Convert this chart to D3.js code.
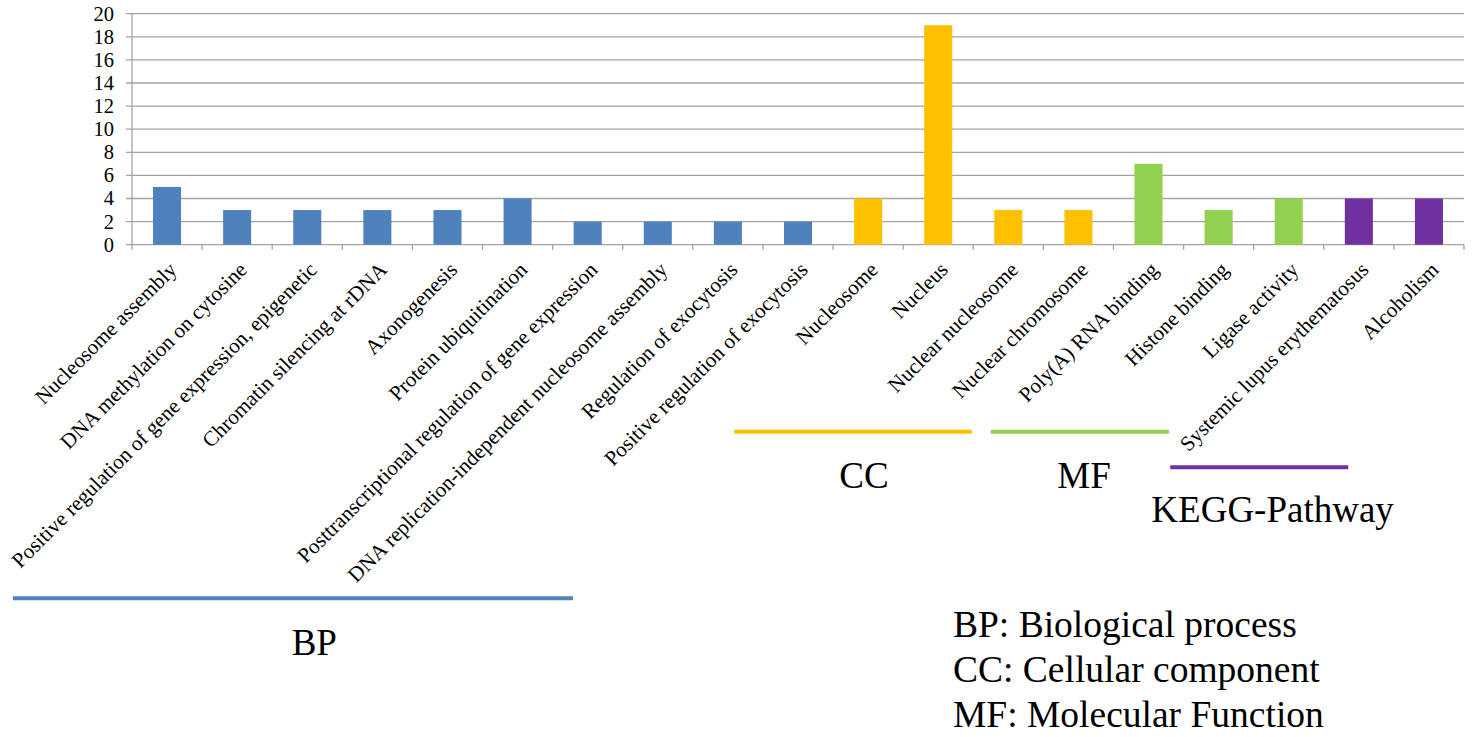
<!DOCTYPE html>
<html>
<head>
<meta charset="utf-8">
<script src="https://cdn.jsdelivr.net/npm/d3@7"></script>
<style>
  html, body { margin: 0; padding: 0; background: #fff; }
  svg { display: block; }
  svg text { font-family: "Liberation Serif", "Times New Roman", Times, serif; }
</style>
</head>
<body>
<svg id="chart" width="1472" height="737"></svg>
<script>
const categories = [
  "Nucleosome assembly",
  "DNA methylation on cytosine",
  "Positive regulation of gene expression, epigenetic",
  "Chromatin silencing at rDNA",
  "Axonogenesis",
  "Protein ubiquitination",
  "Posttranscriptional regulation of gene expression",
  "DNA replication-independent nucleosome assembly",
  "Regulation of exocytosis",
  "Positive regulation of exocytosis",
  "Nucleosome",
  "Nucleus",
  "Nuclear nucleosome",
  "Nuclear chromosome",
  "Poly(A) RNA binding",
  "Histone binding",
  "Ligase activity",
  "Systemic lupus erythematosus",
  "Alcoholism"
];
const counts = [5, 3, 3, 3, 3, 4, 2, 2, 2, 2, 4, 19, 3, 3, 7, 3, 4, 4, 4];
const groupOf = ["BP", "BP", "BP", "BP", "BP", "BP", "BP", "BP", "BP", "BP",
                 "CC", "CC", "CC", "CC", "MF", "MF", "MF", "KEGG", "KEGG"];
const groupNames = ["BP", "CC", "MF", "KEGG"];
const groupLabels = ["BP", "CC", "MF", "KEGG-Pathway"];
const legendLines = ["BP: Biological process", "CC: Cellular component", "MF: Molecular Function"];
const yTicks = [0, 2, 4, 6, 8, 10, 12, 14, 16, 18, 20];

const serif = "'Liberation Serif', 'Times New Roman', Times, serif";

const color = d3.scaleOrdinal()
  .domain(groupNames)
  .range(["#4f81bd", "#ffc000", "#92d050", "#7030a0"]);

const svg = d3.select("#chart");
const plot = {left: 132, right: 1464, top: 13.7, bottom: 244.7};

const x = d3.scaleBand()
  .domain(categories)
  .range([plot.left, plot.right])
  .paddingInner(0.6)
  .paddingOuter(0.3);
const step = x.step();
// category units -> pixels, used for the hand placed group annotations
const xu = d3.scaleLinear().domain([0, categories.length]).range([plot.left, plot.right]);

const y = d3.scaleLinear().domain([0, 20]).range([plot.bottom, plot.top]);

const gridColor = "#a3a3a3";

// gridlines + y ticks
svg.append("g")
  .selectAll("line")
  .data(yTicks)
  .join("line")
  .attr("x1", plot.left - 6)
  .attr("x2", plot.right)
  .attr("y1", d => y(d))
  .attr("y2", d => y(d))
  .attr("stroke", gridColor)
  .attr("stroke-width", 1.3);

svg.append("line")
  .attr("x1", plot.left).attr("x2", plot.left)
  .attr("y1", plot.top).attr("y2", plot.bottom)
  .attr("stroke", gridColor).attr("stroke-width", 1.3);

svg.append("g")
  .selectAll("text")
  .data(yTicks)
  .join("text")
  .attr("x", 114)
  .attr("y", d => y(d))
  .attr("dy", "0.34em")
  .attr("text-anchor", "end")
  .attr("font-family", serif)
  .attr("font-size", 20.5)
  .attr("fill", "#000")
  .text(d => d);

// x axis ticks between categories
svg.append("g")
  .selectAll("line")
  .data(d3.range(categories.length + 1))
  .join("line")
  .attr("x1", i => plot.left + i * step)
  .attr("x2", i => plot.left + i * step)
  .attr("y1", plot.bottom)
  .attr("y2", plot.bottom + 5)
  .attr("stroke", gridColor)
  .attr("stroke-width", 1.3);

// bars
svg.append("g")
  .selectAll("rect")
  .data(categories)
  .join("rect")
  .attr("x", d => x(d))
  .attr("width", x.bandwidth())
  .attr("y", (d, i) => y(counts[i]))
  .attr("height", (d, i) => y(0) - y(counts[i]))
  .attr("fill", (d, i) => color(groupOf[i]));

// rotated category labels
svg.append("g")
  .selectAll("text")
  .data(categories)
  .join("text")
  .attr("transform", d => `translate(${x(d) + x.bandwidth() / 2 + 11},271) rotate(-45)`)
  .attr("text-anchor", "end")
  .attr("font-family", serif)
  .attr("font-size", 21.2)
  .attr("fill", "#000")
  .text(d => d);

// group annotations (bar + label), in category units
const groupMarks = [
  {g: "BP", x0: -1.70, x1: 6.29, y: 598.3, lx: 2.60, ly: 655},
  {g: "CC", x0: 8.59, x1: 11.98, y: 431.7, lx: 10.44, ly: 487.5},
  {g: "MF", x0: 12.25, x1: 14.79, y: 431.7, lx: 13.58, ly: 487.5},
  {g: "KEGG", x0: 14.81, x1: 17.35, y: 467.3, lx: 16.27, ly: 521.7}
];

const ann = svg.append("g");
ann.selectAll("line")
  .data(groupMarks)
  .join("line")
  .attr("x1", d => xu(d.x0))
  .attr("x2", d => xu(d.x1))
  .attr("y1", d => d.y)
  .attr("y2", d => d.y)
  .attr("stroke", d => color(d.g))
  .attr("stroke-width", 4);

ann.selectAll("text")
  .data(groupMarks)
  .join("text")
  .attr("x", d => xu(d.lx))
  .attr("y", d => d.ly)
  .attr("text-anchor", "middle")
  .attr("font-family", serif)
  .attr("font-size", 37)
  .attr("fill", "#000")
  .text(d => groupLabels[groupNames.indexOf(d.g)]);

// legend text
svg.append("g")
  .selectAll("text")
  .data(legendLines)
  .join("text")
  .attr("x", 953)
  .attr("y", (d, i) => 636.7 + i * 45)
  .attr("font-family", serif)
  .attr("font-size", 37.5)
  .attr("fill", "#000")
  .text(d => d);
</script>
</body>
</html>
